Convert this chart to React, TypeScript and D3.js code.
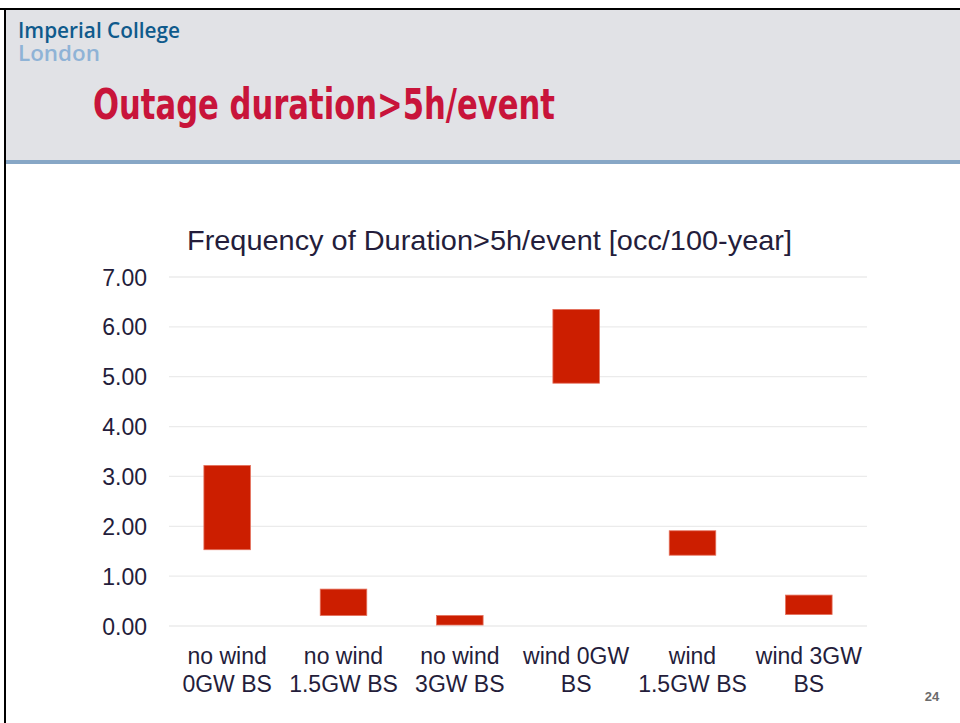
import React from "react";
import * as d3 from "d3";

const categoriesLine1 = ["no wind", "no wind", "no wind", "wind 0GW", "wind", "wind 3GW"];
const categoriesLine2 = ["0GW BS", "1.5GW BS", "3GW BS", "BS", "1.5GW BS", "BS"];
const lowValues = [1.53, 0.21, 0.02, 4.87, 1.42, 0.23];
const highValues = [3.22, 0.74, 0.21, 6.35, 1.91, 0.62];
const yTicks = [0, 1, 2, 3, 4, 5, 6, 7];

const W = 960;
const H = 723;
const plotLeft = 169;
const plotRight = 867;
const plotTop = 277;
const plotBottom = 626;
const textColor = "#241d3b";
const font = "Liberation Sans, Arial, sans-serif";

export default function App() {
  const idx = categoriesLine1.map((_, i) => String(i));
  const x = d3.scaleBand<string>().domain(idx).range([plotLeft, plotRight]).paddingInner(0).paddingOuter(0);
  const y = d3.scaleLinear().domain([0, 7]).range([plotBottom, plotTop]);
  const barW = x.bandwidth() * 0.4;

  return (
    <svg width={W} height={H} style={{ position: "absolute", left: 0, top: 0, background: "#fff" }}>
      {/* header */}
      <rect x={0} y={0} width={W} height={H} fill="#ffffff" />
      <rect x={5} y={9} width={W - 5} height={151} fill="#e1e2e6" />
      <rect x={5} y={160} width={W - 5} height={4} fill="#87a7c6" />
      <rect x={0} y={8} width={W} height={2} fill="#000" />
      <rect x={4} y={8} width={2} height={H - 8} fill="#000" />
      <text
        x={18}
        y={38}
        fontFamily="Open Sans, Liberation Sans, sans-serif"
        fontWeight={600}
        fontSize={21}
        fill="#0f5a8c"
        textLength={162}
        lengthAdjust="spacingAndGlyphs"
      >
        Imperial College
      </text>
      <text
        x={18}
        y={61}
        fontFamily="Open Sans, Liberation Sans, sans-serif"
        fontWeight={600}
        fontSize={21}
        fill="#8fb3d6"
        textLength={82}
        lengthAdjust="spacingAndGlyphs"
      >
        London
      </text>
      <text
        x={93}
        y={119}
        fontFamily="DejaVu Sans Condensed, DejaVu Sans, sans-serif"
        fontWeight={700}
        fontSize={43}
        fill="#c8143a"
        textLength={462}
        lengthAdjust="spacingAndGlyphs"
      >
        Outage duration&gt;5h/event
      </text>

      {/* chart title */}
      <text
        x={187}
        y={250}
        fontFamily={font}
        fontSize={28}
        fill={textColor}
        textLength={605}
        lengthAdjust="spacingAndGlyphs"
      >
        Frequency of Duration&gt;5h/event [occ/100-year]
      </text>

      {/* grid and y labels */}
      {yTicks.map((t) => (
        <g key={t}>
          <line x1={plotLeft} x2={plotRight} y1={y(t)} y2={y(t)} stroke="#ebebeb" strokeWidth={1.3} />
          <text x={147} y={y(t) + 8.5} textAnchor="end" fontFamily={font} fontSize={23} fill={textColor}>
            {t.toFixed(2)}
          </text>
        </g>
      ))}

      {/* bars */}
      {idx.map((k, i) => {
        const cx = (x(k) as number) + x.bandwidth() / 2;
        return (
          <rect
            key={k}
            x={cx - barW / 2}
            y={y(highValues[i])}
            width={barW}
            height={y(lowValues[i]) - y(highValues[i])}
            fill="#cc1e00"
            stroke="#e4705c"
            strokeWidth={0.8}
          />
        );
      })}

      {/* x labels */}
      {idx.map((k, i) => {
        const cx = (x(k) as number) + x.bandwidth() / 2;
        return (
          <g key={"l" + k}>
            <text x={cx} y={664} textAnchor="middle" fontFamily={font} fontSize={23} fill={textColor}>
              {categoriesLine1[i]}
            </text>
            <text x={cx} y={692} textAnchor="middle" fontFamily={font} fontSize={23} fill={textColor}>
              {categoriesLine2[i]}
            </text>
          </g>
        );
      })}

      <text x={932} y={701} textAnchor="middle" fontFamily={font} fontWeight={700} fontSize={13} fill="#6b6b6b">
        24
      </text>
    </svg>
  );
}
